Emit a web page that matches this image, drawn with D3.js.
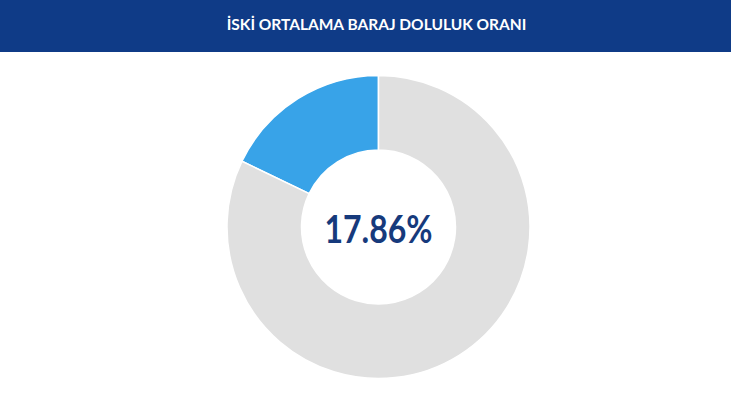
<!DOCTYPE html>
<html>
<head>
<meta charset="utf-8">
<script src="https://cdn.jsdelivr.net/npm/d3@7"></script>
<style>
  html, body { margin: 0; padding: 0; background: #fff; }
  svg { display: block; }
</style>
</head>
<body>
<svg id="area" width="731" height="410"></svg>
<script>
const title = 'İSKİ ORTALAMA BARAJ DOLULUK ORANI';
const labels = ['Dolu', 'Boş'];
const values = [17.86, 82.14];
const colors = ['#38a3e8', '#e0e0e0'];

const svg = d3.select('#area');
const width = 731;
const headerH = 52;

svg.append('rect')
  .attr('width', width)
  .attr('height', headerH)
  .attr('fill', '#0f3b87');

const cx = 378.5;
const cy = 227;
const outer = 151.5;
const inner = 77;

svg.append('text')
  .attr('x', cx - 2)
  .attr('y', 23.5)
  .attr('text-anchor', 'middle')
  .attr('dominant-baseline', 'central')
  .attr('fill', '#fff')
  .style('font', 'bold 15.5px Lato, sans-serif')
  .text(title);

// counter-clockwise from 12 o'clock for the filled part
const pie = d3.pie()
  .sort(null)
  .value((d) => d)
  .startAngle(0)
  .endAngle(-2 * Math.PI);

const arc = d3.arc().innerRadius(inner).outerRadius(outer);

const g = svg.append('g').attr('transform', `translate(${cx},${cy})`);

g.selectAll('path')
  .data(pie(values))
  .join('path')
  .attr('d', arc)
  .attr('fill', (d, i) => colors[i])
  .attr('stroke', '#fff')
  .attr('stroke-width', 1.5);

g.append('text')
  .attr('text-anchor', 'middle')
  .attr('dominant-baseline', 'central')
  .attr('y', 1)
  .attr('fill', '#163a7c')
  .attr('textLength', 108)
  .attr('lengthAdjust', 'spacingAndGlyphs')
  .style('font', '700 38px Lato, sans-serif')
  .text(`${values[0].toFixed(2)}%`);
</script>
</body>
</html>
